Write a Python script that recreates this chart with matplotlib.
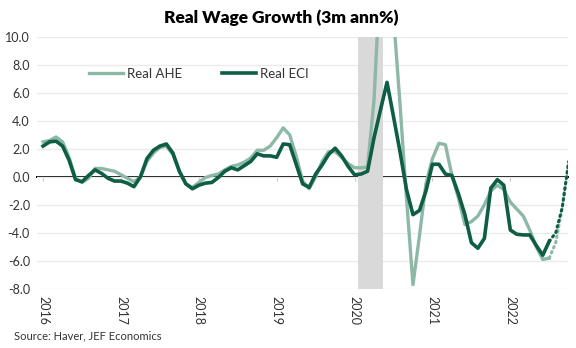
import numpy as np
import matplotlib
matplotlib.use("Agg")
import matplotlib.pyplot as plt

# Monthly observations from Jan 2016 to Jul 2022 (3m annualised, %)
start_year = 2016
real_ahe = [
    2.5, 2.6, 2.85, 2.5, 1.4, -0.1, -0.4, -0.1, 0.6, 0.6, 0.5, 0.4,      # 2016
    0.15, -0.1, -0.35, 0.0, 1.1, 1.7, 2.1, 2.2, 1.6, 0.4, -0.5, -0.75,    # 2017
    -0.4, -0.05, 0.1, 0.2, 0.5, 0.75, 0.85, 1.05, 1.35, 1.9, 1.9, 2.2,    # 2018
    2.8, 3.5, 3.0, 1.5, -0.3, -0.85, 0.0, 1.1, 1.8, 1.8, 1.4, 0.95,       # 2019
    0.65, 0.65, 0.7, 5.5, 15.0, 18.0, 11.5, 5.2, -1.5, -7.7, -4.2, -0.5,  # 2020
    1.3, 2.4, 2.3, 0.1, -1.5, -3.4, -3.2, -2.8, -2.0, -1.0, -0.6, -0.9,   # 2021
    -1.8, -2.3, -2.8, -3.8, -5.0, -5.9, -5.8,                             # 2022
]
real_eci = [
    2.2, 2.5, 2.55, 2.2, 1.2, -0.2, -0.35, 0.1, 0.5, 0.25, -0.1, -0.3,     # 2016
    -0.3, -0.45, -0.7, 0.0, 1.3, 1.9, 2.2, 2.35, 1.7, 0.4, -0.5, -0.85,    # 2017
    -0.6, -0.45, -0.4, -0.05, 0.4, 0.65, 0.5, 0.8, 1.1, 1.65, 1.5, 1.5,    # 2018
    1.4, 2.35, 2.3, 0.9, -0.5, -0.75, 0.2, 0.85, 1.6, 2.05, 1.5, 0.75,     # 2019
    0.15, 0.2, 0.4, 2.8, 4.8, 6.75, 4.3, 1.8, -0.9, -2.7, -2.4, -1.0,      # 2020
    0.9, 0.9, 0.2, 0.1, -1.2, -2.7, -4.7, -5.1, -4.4, -0.8, -0.2, -0.6,    # 2021
    -3.8, -4.1, -4.15, -4.15, -4.9, -5.6, -4.6,                            # 2022
]
# Projection from Jul 2022 to Oct 2022
proj_ahe = [-5.8, -4.7, -2.2, 1.1]
proj_eci = [-4.6, -4.0, -2.2, 1.1]

# Recession shading (decimal years)
recession = (2020.05, 2020.37)

years = [2016, 2017, 2018, 2019, 2020, 2021, 2022]
y_ticks = [10.0, 8.0, 6.0, 4.0, 2.0, 0.0, -2.0, -4.0, -6.0, -8.0]

title = "Real Wage Growth (3m ann%)"
source = "Source: Haver, JEF Economics"

LIGHT = "#8cb8a5"
DARK = "#0d5e45"

plt.rcParams["font.family"] = ["Lato", "DejaVu Sans"]

t = start_year + np.arange(len(real_eci)) / 12.0
t_proj = t[-1] + np.arange(len(proj_eci)) / 12.0

fig = plt.figure(figsize=(5.76, 3.48), dpi=100)
ax = fig.add_axes([0.064, 0.170, 0.922, 0.724])

ymin, ymax = -8.0, 10.0
ax.set_ylim(ymin, ymax)
ax.set_xlim(2015.92, 2022.74)

ax.axvspan(*recession, color="#d9d9d9", lw=0, zorder=1)

ax.plot(t, real_ahe, color=LIGHT, lw=2.4, zorder=3, label="Real AHE",
        solid_joinstyle="round")
ax.plot(t, real_eci, color=DARK, lw=2.6, zorder=4, label="Real ECI",
        solid_joinstyle="round")
ax.plot(t_proj, proj_ahe, color=LIGHT, lw=2.2, ls=(0, (0.5, 1.3)),
        dash_capstyle="round", zorder=3)
ax.plot(t_proj, proj_eci, color=DARK, lw=2.2, ls=(0, (0.5, 1.3)),
        dash_capstyle="round", zorder=4)

for s in ax.spines.values():
    s.set_visible(False)

ax.set_yticks(y_ticks)
ax.set_yticklabels([f"{v:.1f}" for v in y_ticks])
ax.yaxis.grid(True, color="#ebebeb", lw=1.0)
ax.set_axisbelow(True)
ax.tick_params(axis="y", length=0, pad=5, labelsize=9, labelcolor="#333333")

ax.set_xticks(years)
ax.set_xticklabels([str(y) for y in years], rotation=270, va="top", ha="center")
ax.tick_params(axis="x", length=0, pad=5, labelsize=9, labelcolor="#333333")

# Horizontal axis crossing at zero, with small year ticks
zero_axis = ax.secondary_xaxis((0 - ymin) / (ymax - ymin))
zero_axis.set_xticks(years)
zero_axis.set_xticklabels([])
zero_axis.tick_params(axis="x", direction="out", length=3, color="#c8c8c8", width=0.8)
zero_axis.spines["bottom"].set_color("black")
zero_axis.spines["bottom"].set_linewidth(1.4)
for name in ("top", "left", "right"):
    zero_axis.spines[name].set_visible(False)

leg = ax.legend(loc="upper left", bbox_to_anchor=(0.075, 0.925), ncol=2,
                frameon=False, fontsize=9.5, handlelength=2.6, handletextpad=0.3,
                columnspacing=3.0)
for txt in leg.get_texts():
    txt.set_color("#333333")

fig.text(0.488, 0.95, title, ha="center", va="center", fontsize=12.5,
         fontweight="heavy", color="black")
fig.text(0.024, 0.035, source, ha="left", va="center", fontsize=8,
         color="#333333")

fig.savefig("out.png", dpi=100)
